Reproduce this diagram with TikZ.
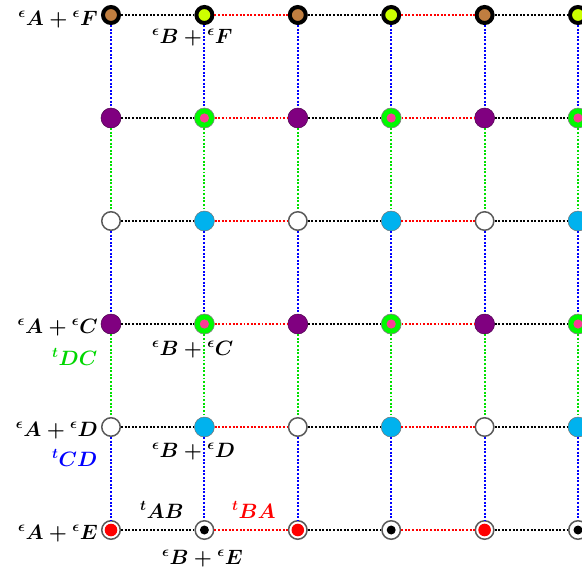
\documentclass[tikz,border=0pt]{standalone}
\usepackage{amsmath}
\definecolor{cbrown}{RGB}{192,126,64}
\definecolor{clime}{RGB}{204,255,0}
\definecolor{cpurple}{RGB}{128,0,128}
\definecolor{cgreen}{RGB}{0,250,0}
\definecolor{cpink}{RGB}{250,60,150}
\definecolor{ccyan}{RGB}{0,178,238}
\definecolor{cgray}{RGB}{90,90,90}
\definecolor{lgreen}{RGB}{0,225,0}
\definecolor{tgreen}{RGB}{0,215,0}
\newcommand\ep[2][\epsilon]{{}^{#1}#2}
\newcommand\myrow[4]{%
  \foreach \c/\x in {1/111,2/204.4,3/297.8,4/391.2,5/484.6,6/578}{%
    \ifodd\c \node[#3] (n#1\c) at (\x,#2) {};%
    \else \node[#4] (n#1\c) at (\x,#2) {};\fi}}
\begin{document}
\begin{tikzpicture}[x=1pt,y=-1pt,
  nbrown/.style={circle, inner sep=0pt, minimum size=16pt, line width=4pt, draw=black, fill=cbrown},
  nlime/.style={nbrown, fill=clime},
  npurple/.style={circle, inner sep=0pt, minimum size=20pt, line width=0.5pt, draw=cpurple!60!black, fill=cpurple},
  ngreen/.style={circle, inner sep=0pt, minimum size=20pt, line width=0.6pt, draw=black!50, fill=cgreen,
    path picture={\fill[cpink] (path picture bounding box.center) circle (4.6pt);}},
  nwhite/.style={circle, inner sep=0pt, minimum size=18.5pt, line width=1.5pt, draw=cgray, fill=white},
  ncyan/.style={circle, inner sep=0pt, minimum size=20pt, line width=0.5pt, draw=black!55, fill=ccyan},
  nred/.style={nwhite, path picture={\fill[red] (path picture bounding box.center) circle (6.3pt);}},
  nblack/.style={nwhite, path picture={\fill[black] (path picture bounding box.center) circle (4.5pt);}},
  dl/.style={line width=1.9pt, dash pattern=on 1.9pt off 1.7pt},
  lab/.style={inner sep=0pt, font=\fontsize{20.5}{24}\selectfont\boldmath}]
\useasboundingbox (0,0) rectangle (582,574);
\clip (0,0) rectangle (582,574);
\myrow{1}{15}{nbrown}{nlime}
\myrow{2}{118}{npurple}{ngreen}
\myrow{3}{221}{nwhite}{ncyan}
\myrow{4}{324}{npurple}{ngreen}
\myrow{5}{427}{nwhite}{ncyan}
\myrow{6}{530}{nred}{nblack}
\foreach \r in {1,...,6}
  \foreach \a/\b/\col in {1/2/black,2/3/red,3/4/black,4/5/red,5/6/black}
    \draw[dl, color=\col] (n\r\a) -- (n\r\b);
\foreach \c in {1,...,6}
  \foreach \a/\b/\col in {1/2/blue,2/3/lgreen,3/4/blue,4/5/lgreen,5/6/blue}
    \draw[dl, color=\col] (n\a\c) -- (n\b\c);
% labels
\node[lab, anchor=base east] (la1) at (98,25) {$\ep{A}+\ep{F}$};
\node[lab, anchor=base east] (la4) at (98,333) {$\ep{A}+\ep{C}$};
\node[lab, anchor=base east] (la5) at (98,436) {$\ep{A}+\ep{D}$};
\node[lab, anchor=base east] (la6) at (98,539) {$\ep{A}+\ep{E}$};
\node[lab, anchor=base west] (lb1) at (152,43) {$\ep{B}+\ep{F}$};
\node[lab, anchor=base west] (lb4) at (152,355) {$\ep{B}+\ep{C}$};
\node[lab, anchor=base west] (lb5) at (152,457) {$\ep{B}+\ep{D}$};
\node[lab, anchor=base west] (lb6) at (162,564) {$\ep{B}+\ep{E}$};
\node[lab, anchor=base west, text=tgreen] (tdc) at (52,365) {$\ep[t]{DC}$};
\node[lab, anchor=base west, text=blue] (tcd) at (52,466) {$\ep[t]{CD}$};
\node[lab, anchor=base west] (tab) at (140,518) {$\ep[t]{AB}$};
\node[lab, anchor=base west, text=red] (tba) at (232,518) {$\ep[t]{BA}$};
\end{tikzpicture}
\end{document}
